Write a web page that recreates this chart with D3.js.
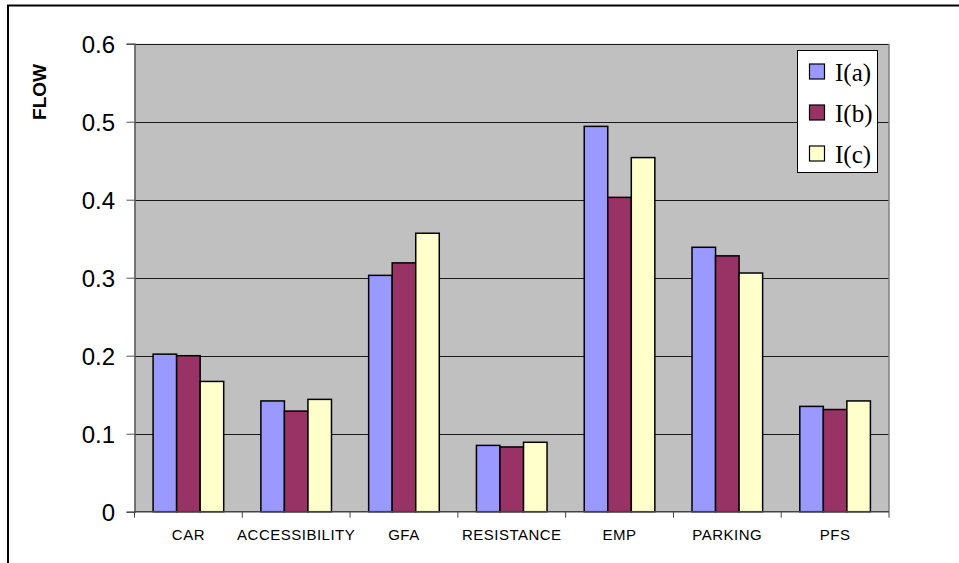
<!DOCTYPE html>
<html>
<head>
<meta charset="utf-8">
<script src="https://cdn.jsdelivr.net/npm/d3@7"></script>
<style>
  html, body { margin: 0; padding: 0; background: #fff; }
  svg { display: block; }
</style>
</head>
<body>
<svg id="chart" width="959" height="563"></svg>
<script>
// Factor categories and the three scenarios
const categories = ["CAR", "ACCESSIBILITY", "GFA", "RESISTANCE", "EMP", "PARKING", "PFS"];
const seriesNames = ["I(a)", "I(b)", "I(c)"];
const seriesA = [0.202, 0.142, 0.303, 0.085, 0.494, 0.339, 0.135];
const seriesB = [0.200, 0.129, 0.319, 0.083, 0.403, 0.328, 0.131];
const seriesC = [0.167, 0.144, 0.357, 0.089, 0.454, 0.306, 0.142];
const yTicks = [0, 0.1, 0.2, 0.3, 0.4, 0.5, 0.6];
const yTickLabels = ["0", "0.1", "0.2", "0.3", "0.4", "0.5", "0.6"];
const colors = ["#9999FF", "#993366", "#FFFFCC"];

const seriesValues = [seriesA, seriesB, seriesC];
const rows = categories.map((c, i) => ({
  category: c,
  values: seriesNames.map((s, j) => ({ series: s, value: seriesValues[j][i], idx: j }))
}));

const svg = d3.select("#chart");

// Outer frame
svg.append("rect")
  .attr("x", 8).attr("y", 5.5)
  .attr("width", 1000).attr("height", 700)
  .attr("fill", "none").attr("stroke", "#000").attr("stroke-width", 2);

const plot = { left: 134.5, right: 889, top: 43.7, bottom: 511.7 };

const x0 = d3.scaleBand().domain(categories).range([plot.left, plot.right]).paddingInner(0).paddingOuter(0);
const x1 = d3.scaleBand().domain(seriesNames).range([0, x0.bandwidth()]).paddingInner(0).paddingOuter(0.79);
const y = d3.scaleLinear().domain([0, 0.6]).range([plot.bottom, plot.top]);

// Plot background
svg.append("rect")
  .attr("x", plot.left).attr("y", plot.top)
  .attr("width", plot.right - plot.left).attr("height", plot.bottom - plot.top)
  .attr("fill", "#C0C0C0");

// Horizontal gridlines
svg.append("g")
  .selectAll("line")
  .data(yTicks.filter(t => t > 0))
  .join("line")
  .attr("x1", plot.left).attr("x2", plot.right)
  .attr("y1", d => Math.round(y(d)) + 0.5).attr("y2", d => Math.round(y(d)) + 0.5)
  .attr("stroke", "#1a1a1a").attr("stroke-width", 1);

// Right edge of plot area
svg.append("line")
  .attr("x1", plot.right).attr("x2", plot.right)
  .attr("y1", plot.top).attr("y2", plot.bottom)
  .attr("stroke", "#808080").attr("stroke-width", 1.5);

// Bars
const groups = svg.append("g")
  .selectAll("g")
  .data(rows)
  .join("g")
  .attr("transform", d => `translate(${x0(d.category)},0)`);

groups.selectAll("rect")
  .data(d => d.values)
  .join("rect")
  .attr("x", d => x1(d.series))
  .attr("y", d => y(d.value))
  .attr("width", x1.bandwidth())
  .attr("height", d => y(0) - y(d.value))
  .attr("fill", d => colors[d.idx])
  .attr("stroke", "#000")
  .attr("stroke-width", 1.5);

// Y axis
const yAxis = d3.axisLeft(y)
  .tickValues(yTicks)
  .tickFormat((d, i) => yTickLabels[i])
  .tickSize(8)
  .tickPadding(11.5);

const gy = svg.append("g")
  .attr("transform", `translate(${plot.left},0)`)
  .call(yAxis);
gy.select(".domain").attr("stroke", "#555").attr("stroke-width", 1.5);
gy.selectAll(".tick line").attr("stroke", "#555");
gy.selectAll(".tick text")
  .attr("font-family", "Arial, 'Liberation Sans', sans-serif")
  .attr("font-size", 24)
  .attr("fill", "#000")
  .attr("dy", "0.36em");

// X axis: ticks at category boundaries
const gx = svg.append("g").attr("transform", `translate(0,${plot.bottom})`);
gx.append("line")
  .attr("x1", plot.left).attr("x2", plot.right)
  .attr("y1", 0).attr("y2", 0)
  .attr("stroke", "#444").attr("stroke-width", 1.5);
const boundaries = categories.map(c => x0(c)).concat([plot.right]);
gx.selectAll("line.tk")
  .data(boundaries)
  .join("line")
  .attr("class", "tk")
  .attr("x1", d => d).attr("x2", d => d)
  .attr("y1", 0).attr("y2", 6)
  .attr("stroke", "#444").attr("stroke-width", 1);
gx.selectAll("text")
  .data(categories)
  .join("text")
  .attr("x", d => x0(d) + x0.bandwidth() / 2)
  .attr("y", 28.5)
  .attr("text-anchor", "middle")
  .attr("font-family", "Arial, 'Liberation Sans', sans-serif")
  .attr("font-size", 15)
  .attr("letter-spacing", 0.5)
  .attr("fill", "#000")
  .text(d => d);

// Y axis title
svg.append("text")
  .attr("transform", "translate(46,92) rotate(-90)")
  .attr("text-anchor", "middle")
  .attr("font-family", "Arial, 'Liberation Sans', sans-serif")
  .attr("font-weight", "bold")
  .attr("font-size", 19)
  .attr("fill", "#000")
  .text("FLOW");

// Legend
const legend = svg.append("g");
legend.append("rect")
  .attr("x", 797.5).attr("y", 50.5)
  .attr("width", 80).attr("height", 122)
  .attr("fill", "#fff").attr("stroke", "#000").attr("stroke-width", 1);
const legendRows = legend.selectAll("g.item")
  .data(seriesNames)
  .join("g")
  .attr("class", "item")
  .attr("transform", (d, i) => `translate(0,${72 + i * 41})`);
legendRows.append("rect")
  .attr("x", 809.5).attr("y", -8)
  .attr("width", 15).attr("height", 15)
  .attr("fill", (d, i) => colors[i])
  .attr("stroke", "#000").attr("stroke-width", 1.2);
legendRows.append("text")
  .attr("x", 835)
  .attr("y", 8.5)
  .attr("font-family", "'Times New Roman', 'Liberation Serif', serif")
  .attr("font-size", 25)
  .attr("fill", "#000")
  .text(d => d);
</script>
</body>
</html>
